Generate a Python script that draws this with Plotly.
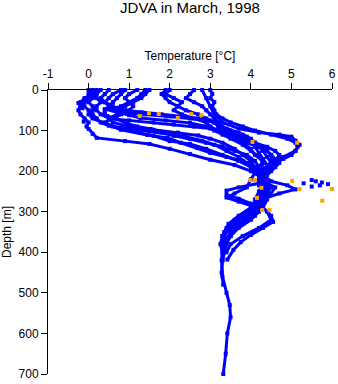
import plotly.graph_objects as go

# ---- data: CTD profiles (depth [m], temperature [degC]) ----
p1_depth = [0,10,20,30,40,50,60,70,80,90,100,110,120,130,140,150,160,170,180,190,200,210,220,230,240,250,260,280,300,320,340,360,380,400,420]
p1_temp  = [3.0,3.05,3.0,3.1,3.05,3.1,3.15,3.3,3.5,3.8,4.1,4.5,4.9,5.1,5.15,5.1,5.0,4.8,4.6,4.4,4.3,4.25,4.2,4.3,4.35,4.3,4.2,4.1,4.0,3.8,3.6,3.5,3.4,3.35,3.3]

p2_depth = [0,20,40,60,80,95,105,110,115,125,135,150,165,180,195,210,225,240,255,265,280,300,320,340,360,380,400]
p2_temp  = [2.8,2.9,3.0,3.1,3.3,3.7,4.2,4.7,5.0,5.1,5.2,5.1,4.8,4.5,4.3,4.2,4.3,4.6,4.5,4.3,4.2,4.4,4.5,4.2,3.8,3.5,3.4]

p3_depth = [0,10,20,30,40,50,60,70,80,90,96,108,118,126,133,145,158,172,185,200,215,230,250,270,290,310,330,350,380,420,460,500,530,560,600,650,700]
p3_temp  = [0.2,0.1,0.0,-0.1,-0.2,-0.25,-0.2,-0.1,0.0,-0.05,0.0,0.1,0.2,0.9,1.5,2.0,2.5,3.0,3.6,4.0,4.25,4.35,4.4,4.3,4.0,3.7,3.45,3.35,3.3,3.28,3.3,3.4,3.48,3.5,3.42,3.38,3.32]

p4_depth = [0,10,20,30,40,50,60,70,80,90,100,110,120,130,140,150,160,170,180,190,200,210,220,235,250,270,290,310,330,350,370]
p4_temp  = [2.0,1.9,2.1,2.3,2.2,2.1,2.3,2.6,2.9,3.0,3.2,3.4,3.6,3.9,4.2,4.4,4.5,4.6,4.7,4.6,4.5,4.4,4.3,4.2,4.3,4.4,4.3,4.0,3.7,3.5,3.4]

p5_depth = [0,10,20,30,40,50,55,60,65,70,75,80,90,100,110,120,130,140,150,160,175,190,210,230,250,270,290,310,325,340,357,375,394,418]
p5_temp  = [0.8,0.6,0.5,0.4,0.5,0.6,0.8,1.4,2.0,2.5,2.9,3.1,3.2,3.4,3.6,3.9,4.1,4.3,4.4,4.5,4.5,4.4,4.3,4.2,4.3,4.2,4.3,4.5,4.55,4.3,4.0,3.75,3.57,3.42]

p6_depth = [0,10,20,30,40,50,60,70,75,80,85,90,95,100,110,120,130,145,160,175,190,205,220,240,255,265,275,285,300,320,340,360,380,400]
p6_temp  = [0.3,0.2,0.1,0.0,0.1,0.2,0.3,0.5,1.0,1.6,2.1,2.6,3.0,3.2,3.4,3.6,3.8,4.0,4.1,4.3,4.2,4.1,4.0,3.9,3.6,3.4,3.7,4.0,4.1,3.8,3.5,3.3,3.25,3.3]

p7_depth = [0,10,20,30,40,50,60,70,80,90,98,111,118,130,143,155,165,175,185,200,215,230,240,248,258,268,280,295,310,330,350,370,390,420,450,480]
p7_temp  = [1.2,1.0,0.9,1.0,1.1,1.0,0.8,0.6,0.4,0.6,0.8,1.45,1.95,2.27,2.68,3.0,3.4,3.8,4.0,4.2,4.3,4.2,3.7,3.4,3.4,3.7,4.0,4.2,4.1,3.8,3.5,3.4,3.35,3.3,3.28,3.32]

p8_depth = [0,10,20,30,40,50,60,70,80,88,95,102,108,115,125,135,150,165,180,195,210,225,240,255,270,285,300,320,340,360,380]
p8_temp  = [0.0,0.1,-0.1,-0.2,-0.1,0.0,0.1,0.2,0.3,0.5,1.0,1.5,2.0,2.4,2.8,3.1,3.4,3.7,3.9,4.1,4.2,4.4,4.5,4.4,4.2,4.1,4.0,3.7,3.45,3.35,3.3]

p9_depth = [0,10,20,30,40,50,60,70,80,90,100,110,120,130,140,150,165,180,195,210,225,235,245,255,265,280,300,320,340,360]
p9_temp  = [2.6,2.5,2.4,2.6,2.8,2.9,3.0,3.1,3.2,3.3,3.5,3.8,4.0,4.1,4.2,4.3,4.4,4.5,4.4,4.3,4.5,4.9,5.1,4.7,4.4,4.3,4.2,4.0,3.7,3.5]

p10_depth = [0,10,20,30,40,45,50,55,60,65,70,75,85,95,105,115,125,140,155,170,185,200,215,230,250,270,290,310,330]
p10_temp  = [1.4,1.3,1.2,1.0,0.8,0.7,0.9,1.3,1.8,2.3,2.7,3.0,3.2,3.4,3.7,3.9,4.0,4.1,4.2,4.3,4.4,4.3,4.2,4.3,4.2,4.1,4.2,4.0,3.6]

p11_depth = [0,10,20,30,40,50,60,70,80,90,98,105,112,120,130,145,160,175,190,205,220,240,260,280,300,320,340,360]
p11_temp  = [0.5,0.4,0.3,0.4,0.6,0.8,0.7,0.5,0.6,1.0,1.6,2.2,2.7,3.0,3.3,3.6,3.8,4.0,4.1,4.2,4.3,4.4,4.3,4.1,3.9,3.6,3.4,3.3]

p12_depth = [0,10,20,30,40,50,60,70,80,90,100,110,120,130,140,150,160,175,190,205,220,240,260,280,300]
p12_temp  = [1.9,1.8,1.9,2.0,2.2,2.4,2.7,2.9,3.1,3.2,3.3,3.5,3.8,4.1,4.4,4.6,4.7,4.6,4.5,4.4,4.3,4.35,4.3,4.2,4.1]

p13_depth = [0,10,20,30,40,50,58,64,72,83,90,96,104,113,121,130,140,150,160,175,190,205,220,235,250,265,280,300,320]
p13_temp  = [0.9,0.8,0.7,0.6,0.5,0.4,0.4,0.46,0.7,0.96,1.2,1.53,1.8,2.1,2.5,2.9,3.3,3.6,3.9,4.1,4.2,4.3,4.35,4.3,4.4,4.3,4.2,4.0,3.7]

p14_depth = [0,10,20,30,40,47,55,62,69,75,81,90,100,110,120,135,150,165,180,200,220,240,260,280,300,320,340]
p14_temp  = [1.5,1.4,1.3,1.1,0.9,0.4,0.7,1.0,1.28,1.9,2.5,2.9,3.1,3.3,3.5,3.8,4.0,4.2,4.3,4.25,4.2,4.3,4.3,4.2,4.1,3.8,3.5]

p15_depth = [0,10,20,30,40,50,60,70,81,96,106,113,126,133,145,160,175,190,210,230,250,270,290,310,330,350]
p15_temp  = [0.1,0.0,0.2,0.3,0.2,0.1,0.0,0.1,0.37,0.8,1.28,1.6,2.0,2.5,2.9,3.3,3.7,4.0,4.2,4.4,4.3,4.3,4.1,3.8,3.5,3.35]

profiles = [
    (p1_depth, p1_temp), (p2_depth, p2_temp), (p3_depth, p3_temp),
    (p4_depth, p4_temp), (p5_depth, p5_temp), (p6_depth, p6_temp),
    (p7_depth, p7_temp), (p8_depth, p8_temp), (p9_depth, p9_temp),
    (p10_depth, p10_temp), (p11_depth, p11_temp), (p12_depth, p12_temp),
    (p13_depth, p13_temp), (p14_depth, p14_temp), (p15_depth, p15_temp),
]

# scattered single blue samples
stray_depth = [32, 38, 45, 78, 222, 225, 228, 232, 235, 238, 230]
stray_temp  = [-0.25, -0.2, -0.15, -0.12, 5.5, 5.6, 5.75, 5.9, 5.7, 5.5, 5.3]

# flagged samples (orange)
flag_depth = [64, 57, 59, 69, 59, 62, 128, 130, 222, 222, 241, 224, 244, 244, 266, 296, 296, 273]
flag_temp  = [1.26, 1.49, 1.73, 2.2, 2.53, 2.78, 4.04, 5.14, 3.99, 4.1, 4.26, 5.02, 5.2, 6.0, 4.15, 4.28, 4.46, 5.76]

x_ticks = [-1, 0, 1, 2, 3, 4, 5, 6]
y_ticks = [0, 100, 200, 300, 400, 500, 600, 700]

BLUE = "#0000FF"
ORANGE = "#FFA500"

fig = go.Figure()
for d, t in profiles:
    fig.add_trace(go.Scatter(
        x=t, y=d, mode="lines+markers",
        line=dict(color=BLUE, width=3),
        marker=dict(color=BLUE, size=4, symbol="square"),
        showlegend=False, hoverinfo="skip", cliponaxis=False))

fig.add_trace(go.Scatter(
    x=stray_temp, y=stray_depth, mode="markers",
    marker=dict(color=BLUE, size=4, symbol="square"),
    showlegend=False, hoverinfo="skip", cliponaxis=False))

fig.add_trace(go.Scatter(
    x=flag_temp, y=flag_depth, mode="markers",
    marker=dict(color=ORANGE, size=4, symbol="square"),
    showlegend=False, hoverinfo="skip", cliponaxis=False))

font_family = "Liberation Sans, Arial, sans-serif"

fig.update_layout(
    width=338, height=384,
    margin=dict(l=48, r=6, t=90, b=10, autoexpand=False),
    paper_bgcolor="white", plot_bgcolor="white",
    font=dict(family=font_family, size=12, color="black"),
    title=dict(text="JDVA in March, 1998", x=190 / 338, xanchor="center", xref="container",
               y=1 - 8 / 384, yanchor="middle", yref="container", font=dict(size=15, color="black")),
)

fig.update_xaxes(
    side="top", range=[-1, 6], tickvals=x_ticks, ticktext=[str(v) for v in x_ticks],
    showline=True, linecolor="black", linewidth=1, mirror=False, automargin=False,
    ticks="outside", ticklen=6, tickcolor="black", showgrid=False, zeroline=False,
    title=dict(text="Temperature [°C]", standoff=4, font=dict(size=12)),
    tickfont=dict(size=12),
)
fig.update_yaxes(
    range=[700, 0], tickvals=y_ticks, ticktext=[str(v) for v in y_ticks],
    showline=True, linecolor="black", linewidth=1, mirror=False, automargin=False,
    ticks="outside", ticklen=6, tickcolor="black", showgrid=False, zeroline=False,
    title=dict(text="Depth [m]", standoff=6, font=dict(size=12)),
    tickfont=dict(size=12),
)

fig.write_html("out.html", config={"displayModeBar": False},
               post_script="document.body.style.margin='0';document.body.style.padding='0';")
